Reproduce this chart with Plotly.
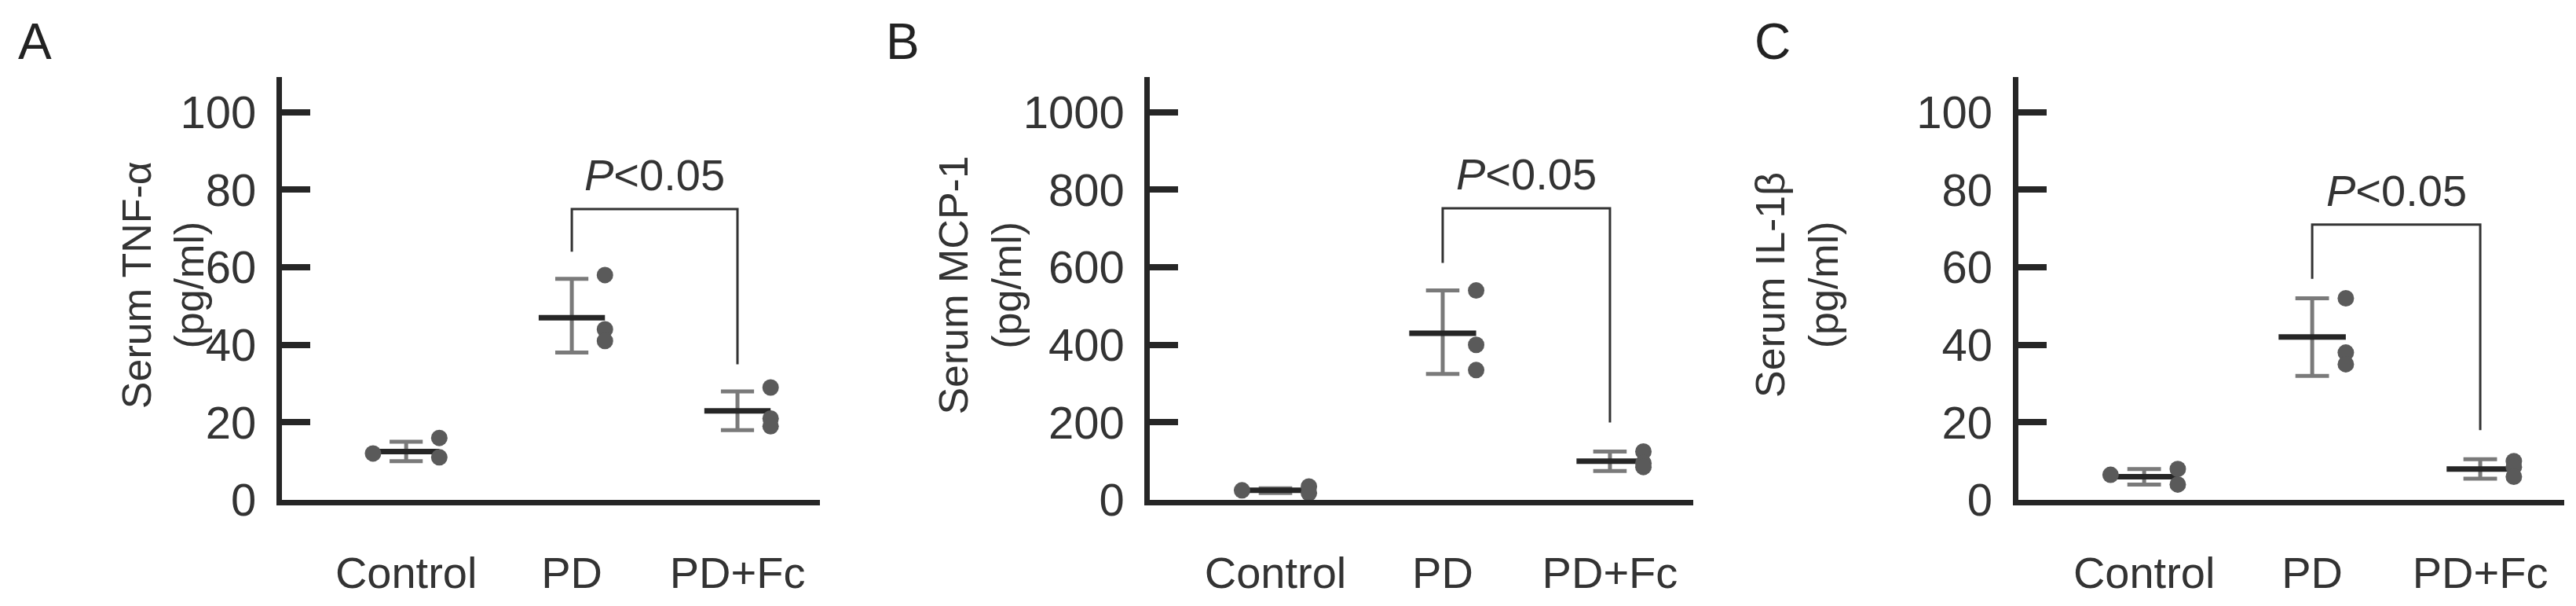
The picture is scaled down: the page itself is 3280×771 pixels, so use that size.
import plotly.graph_objects as go

# groups
groups = ["Control", "PD", "PD+Fc"]
panel_letters = ["A", "B", "C"]
y_titles = ["Serum TNF-α<br>(pg/ml)", "Serum MCP-1<br>(pg/ml)", "Serum IL-1β<br>(pg/ml)"]

# mean, lower / upper error, individual points
tnf_mean = [12.5, 47, 23]
tnf_lo = [10, 38, 18]
tnf_hi = [15, 57, 28]
tnf_pts = [[12, 16, 11], [58, 44, 41], [29, 21, 19]]
tnf_bracket = [75, 64, 35]

mcp_mean = [25, 430, 100]
mcp_lo = [18, 325, 75]
mcp_hi = [30, 540, 125]
mcp_pts = [[25, 35, 18], [540, 400, 335], [125, 95, 85]]
mcp_bracket = [752, 611, 200]

il_mean = [6, 42, 8]
il_lo = [4, 32, 5.5]
il_hi = [8, 52, 10.5]
il_pts = [[6.5, 8, 4], [52, 38, 35], [10, 8.5, 6]]
il_bracket = [71, 57, 18]

y_max = [100, 1000, 100]
y_dtick = [20, 200, 20]

panels = [
    (tnf_mean, tnf_lo, tnf_hi, tnf_pts, tnf_bracket),
    (mcp_mean, mcp_lo, mcp_hi, mcp_pts, mcp_bracket),
    (il_mean, il_lo, il_hi, il_pts, il_bracket),
]

domains = [[0.107, 0.316], [0.444, 0.655], [0.781, 0.993]]

fig = go.Figure()
font = "Liberation Sans Narrow, Liberation Sans, Arial, sans-serif"

for i, (mean, lo, hi, pts, br) in enumerate(panels):
    xa = "x" if i == 0 else f"x{i+1}"
    ya = "y" if i == 0 else f"y{i+1}"
    top = y_max[i] * 1.09
    for g in range(3):
        # error bar
        fig.add_trace(go.Scatter(x=[g, g], y=[lo[g], hi[g]], mode="lines",
                                 line=dict(color="#7a7a7a", width=5), xaxis=xa, yaxis=ya))
        for v in (lo[g], hi[g]):
            fig.add_trace(go.Scatter(x=[g - 0.1, g + 0.1], y=[v, v], mode="lines",
                                     line=dict(color="#7a7a7a", width=5), xaxis=xa, yaxis=ya))
        # mean
        fig.add_trace(go.Scatter(x=[g - 0.2, g + 0.2], y=[mean[g], mean[g]], mode="lines",
                                 line=dict(color="#262626", width=7), xaxis=xa, yaxis=ya))
        # points
        xs = [g + (-0.2 if (g == 0 and k == 0) else 0.2) for k in range(3)]
        fig.add_trace(go.Scatter(x=xs, y=pts[g], mode="markers",
                                 marker=dict(color="#5a5a5a", size=21), xaxis=xa, yaxis=ya))
    # significance bracket
    fig.add_trace(go.Scatter(x=[1, 1, 2, 2], y=[br[1], br[0], br[0], br[2]], mode="lines",
                             line=dict(color="#333333", width=3), xaxis=xa, yaxis=ya))
    fig.add_annotation(x=1.5, y=br[0], xref=xa, yref=ya, yshift=10, yanchor="bottom",
                       text="<i>P</i><0.05", showarrow=False,
                       font=dict(family=font, size=56, color="#333333"))
    fig.layout[f"xaxis{'' if i == 0 else i+1}"] = dict(
        domain=domains[i], anchor=ya, range=[-0.75, 2.5],
        tickvals=[0, 1, 2], ticktext=groups, ticks="", ticklabelstandoff=38,
        showline=True, linewidth=7, linecolor="#262626", showgrid=False, zeroline=False,
        tickfont=dict(family=font, size=56, color="#333333"))
    fig.layout[f"yaxis{'' if i == 0 else i+1}"] = dict(
        domain=[0.15, 0.878], anchor=xa, range=[0, top],
        tickvals=list(range(0, y_max[i] + 1, y_dtick[i])),
        ticks="inside", ticklen=36, tickwidth=8, tickcolor="#262626",
        showline=True, linewidth=7, linecolor="#262626", showgrid=False, zeroline=False,
        ticklabelstandoff=14,
        tickfont=dict(family=font, size=58, color="#333333"))
    fig.add_annotation(x=domains[i][0] - 0.066, y=0.52, xref="paper", yref="paper",
                       text=y_titles[i], textangle=-90, showarrow=False,
                       font=dict(family="Liberation Sans, Arial, sans-serif", size=52, color="#333333"))
    fig.add_annotation(x=domains[i][0] - 0.103, y=0.99, xref="paper", yref="paper",
                       xanchor="left", yanchor="top", text=panel_letters[i], showarrow=False,
                       font=dict(family="Liberation Sans, Arial, sans-serif", size=64, color="#222222"))

fig.update_layout(width=3280, height=771, showlegend=False, plot_bgcolor="white",
                  paper_bgcolor="white", margin=dict(l=0, r=0, t=0, b=0))

fig.write_html("out.html")
